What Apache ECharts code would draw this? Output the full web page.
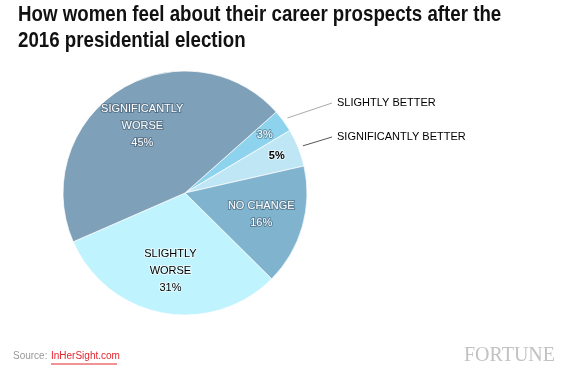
<!DOCTYPE html>
<html>
<head>
<meta charset="utf-8">
<script src="https://cdn.jsdelivr.net/npm/echarts@6/dist/echarts.min.js"></script>
<style>
  html, body { margin: 0; padding: 0; background: #fff; }
  #chart { width: 565px; height: 376px; }
</style>
</head>
<body>
<div id="chart"></div>
<script>
// slices, clockwise from the upper right
const categories = ["SLIGHTLY BETTER", "SIGNIFICANTLY BETTER", "NO CHANGE", "SLIGHTLY WORSE", "SIGNIFICANTLY WORSE"];
const values = [3, 5, 16, 31, 45];
const insideLabels = ["3%", "5%", "NO CHANGE\n16%", "SLIGHTLY\nWORSE\n31%", "SIGNIFICANTLY\nWORSE\n45%"];
const colors = ["#8dd3ee", "#bfe6f5", "#7fb3ce", "#bff3fd", "#7ea0b8"];
const darkText = [false, true, false, true, false];

const chartDom = document.getElementById("chart");
const chart = echarts.init(chartDom);

const cx = 185, cy = 193, R = 122, startAngle = 41.6;
const total = values.reduce((a, b) => a + b, 0);

function midAngle(i) {
  let before = 0;
  for (let k = 0; k < i; k++) before += values[k];
  return startAngle - (360 * (before + values[i] / 2)) / total;
}

const calloutY = [103, 137];
const calloutLine = ["#aaaaaa", "#555555"];
const font = "'Liberation Sans', Arial, sans-serif";

const pieData = categories.map((name, i) => ({
  name: name,
  value: values[i],
  itemStyle: { color: colors[i] },
  label: darkText[i]
    ? { color: "#000", textBorderColor: "rgba(255,255,255,0.6)", textBorderWidth: 2, fontWeight: i === 1 ? "bold" : "normal" }
    : { color: "#fff", textBorderColor: "rgba(50,70,90,0.45)", textBorderWidth: 2 },
}));

const calloutData = categories.map((name, i) => ({
  name: name,
  value: values[i],
  label: { show: values[i] < 10 },
  labelLine: { show: values[i] < 10, lineStyle: { color: calloutLine[i] || "#888" } },
}));

const option = {
  animation: false,
  series: [
    {
      type: "pie",
      center: [cx, cy],
      radius: [0, R],
      startAngle: startAngle,
      silent: true,
      data: calloutData,
      itemStyle: { color: "transparent" },
      label: {
        position: "outside",
        formatter: "{b}",
        fontFamily: font,
        fontSize: 11,
        color: "#000",
      },
      labelLine: { length: 10, length2: 10, lineStyle: { width: 1 } },
      labelLayout: function (p) {
        const i = p.dataIndex;
        const a = (midAngle(i) * Math.PI) / 180;
        const sx = cx + Math.cos(a) * (R + 5);
        const sy = cy - Math.sin(a) * (R + 5);
        const y = calloutY[i] || 0;
        return {
          x: 337,
          y: y,
          align: "left",
          verticalAlign: "middle",
          labelLinePoints: [[sx, sy], [332, y], [332, y]],
        };
      },
    },
    {
      type: "pie",
      center: [cx, cy],
      radius: [0, R],
      startAngle: startAngle,
      silent: true,
      data: pieData,
      itemStyle: { borderColor: "rgba(255,255,255,0.7)", borderWidth: 1 },
      label: {
        position: "inside",
        formatter: (p) => insideLabels[p.dataIndex],
        fontFamily: font,
        fontSize: 11,
        lineHeight: 17,
        align: "center",
      },
      labelLine: { show: false },
      labelLayout: function (p) {
        const i = p.dataIndex;
        const a = (midAngle(i) * Math.PI) / 180;
        const f = values[i] < 10 ? 0.81 : 0.65;
        return {
          x: cx + Math.cos(a) * R * f,
          y: cy - Math.sin(a) * R * f,
          align: "center",
          verticalAlign: "middle",
        };
      },
    },
  ],
  graphic: [
    {
      type: "text",
      x: 18,
      y: 2,
      scaleX: 0.85,
      style: {
        text: "How women feel about their career prospects after the\n2016 presidential election",
        fill: "#111",
        fontSize: 22,
        fontWeight: "bold",
        lineHeight: 26,
        fontFamily: font,
      },
    },
    {
      type: "text",
      left: 13,
      top: 351,
      style: { text: "Source: ", fill: "#999", fontSize: 10, fontFamily: font },
    },
    {
      type: "text",
      left: 51,
      top: 351,
      style: { text: "InHerSight.com", fill: "#e3262f", fontSize: 10, fontFamily: font },
    },
    {
      type: "line",
      shape: { x1: 51, y1: 364, x2: 117, y2: 364 },
      style: { stroke: "#e3262f", lineWidth: 1 },
    },
    {
      type: "text",
      right: 10,
      top: 346,
      style: { text: "FORTUNE", fill: "#c2c2c2", fontSize: 20, fontFamily: "'Liberation Serif', 'DejaVu Serif', serif" },
    },
  ],
};

chart.setOption(option);
window.addEventListener("resize", chart.resize);
</script>
</body>
</html>
